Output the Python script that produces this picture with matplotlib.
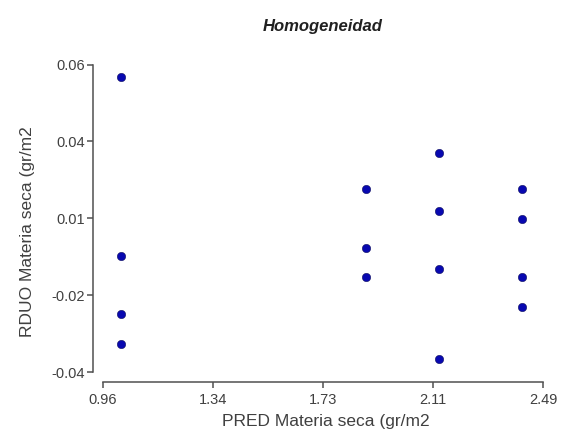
import numpy as np
from matplotlib import pyplot as plt

# residuals vs predicted
pred = [1.023, 1.023, 1.023, 1.023,
        1.876, 1.876, 1.876,
        2.130, 2.130, 2.130, 2.130,
        2.417, 2.417, 2.417, 2.417]
resid = [0.0558, -0.0022, -0.0212, -0.0309,
         0.0196, 0.0002, -0.0090,
         0.0313, 0.0123, -0.0065, -0.0358,
         0.0194, 0.0098, -0.0090, -0.0187]

xtick_labels = ["0.96", "1.34", "1.73", "2.11", "2.49"]
ytick_labels = ["-0.04", "-0.02", "0.01", "0.04", "0.06"]

plt.rcParams['font.family'] = ['Liberation Sans', 'DejaVu Sans']
txt = "#404040"

fig = plt.figure(figsize=(5.63, 4.37), dpi=100)
ax = fig.add_axes([103 / 563, 65 / 437, 440 / 563, 307.5 / 437])

ax.scatter(pred, resid, s=36, color="#0808b0", edgecolors="#101060", linewidths=0.4,
           clip_on=False, zorder=3)

ax.set_xlim(0.96, 2.49)
ax.set_ylim(-0.04, 0.06)
ax.set_xticks(np.linspace(0.96, 2.49, 5))
ax.set_xticklabels(xtick_labels)
ax.set_yticks(np.linspace(-0.04, 0.06, 5))
ax.set_yticklabels(ytick_labels)

for s in ["top", "right"]:
    ax.spines[s].set_visible(False)
ax.spines["left"].set_position(("outward", 7.2))
ax.spines["bottom"].set_position(("outward", 7.0))
for s in ["left", "bottom"]:
    ax.spines[s].set_color("#505050")
    ax.spines[s].set_linewidth(1.1)

ax.tick_params(direction="out", length=4.5, width=1.1, color="#505050",
               labelsize=10.5, labelcolor=txt)
ax.tick_params(axis="x", pad=3.5)
ax.tick_params(axis="y", pad=1.0)

ax.set_xlabel("PRED Materia seca (gr/m2", fontsize=12.5, color=txt)
ax.set_ylabel("RDUO Materia seca (gr/m2", fontsize=12.5, color=txt)
ax.xaxis.set_label_coords(0.507, -0.135)
ax.yaxis.set_label_coords(-0.155, 0.456)
ax.set_title("Homogeneidad", fontsize=12, fontweight="bold", fontstyle="italic",
             color="#202020", pad=24)

fig.savefig("out.png", dpi=100)
